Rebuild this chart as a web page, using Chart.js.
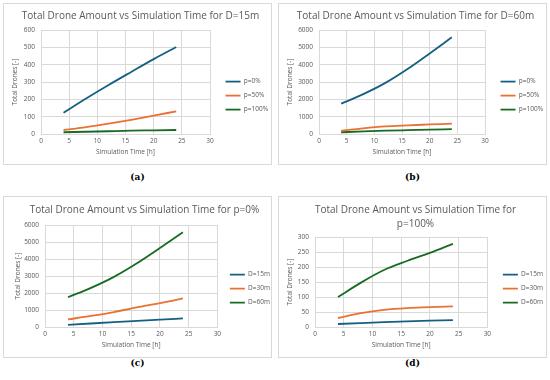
<!DOCTYPE html>
<html>
<head>
<meta charset="utf-8">
<script src="https://cdn.jsdelivr.net/npm/chart.js@4.4.1/dist/chart.umd.min.js"></script>
<style>
  body { margin: 0; width: 550px; height: 380px; background: #fff; position: relative; overflow: hidden; }
  .box { position: absolute; width: 269px; height: 162px; border: 1px solid #d9d9d9; box-sizing: border-box; }
  .cap { position: absolute; width: 269px; text-align: center; font-family: "DejaVu Serif", serif; font-weight: bold; font-size: 9px; color: #000; }
</style>
</head>
<body>
<div class="box" style="left:3px;top:3px"><canvas id="chartA"></canvas></div>
<div class="box" style="left:278px;top:3px"><canvas id="chartB"></canvas></div>
<div class="box" style="left:3px;top:196px"><canvas id="chartC"></canvas></div>
<div class="box" style="left:278px;top:196px"><canvas id="chartD"></canvas></div>
<div class="cap" style="left:3px;top:172px">(a)</div>
<div class="cap" style="left:278px;top:172px">(b)</div>
<div class="cap" style="left:3px;top:358px">(c)</div>
<div class="cap" style="left:278px;top:358px">(d)</div>
<script>
// simulation time [h]
const simTime = [4, 8, 12, 16, 20, 24]

// total drones, by grid size D and share p
const d15p0 = [123, 205, 283, 358, 432, 502]
const d15p50 = [23, 40, 60, 82, 106, 131]
const d15p100 = [10, 13, 16, 19, 21, 23]
const d30p0 = [450, 650, 880, 1150, 1400, 1680]
const d30p100 = [30, 46, 57, 63, 66, 69]
const d60p0 = [1750, 2300, 2950, 3750, 4650, 5580]
const d60p50 = [185, 330, 440, 500, 550, 600]
const d60p100 = [100, 148, 190, 220, 247, 277]

const pLabels = ['p=0%', 'p=50%', 'p=100%']
const dLabels = ['D=15m', 'D=30m', 'D=60m']
const colors = ['#156082', '#E97132', '#196B24']

const fontName = '"Open Sans", sans-serif'
const grey = '#595959'
const gridGrey = '#d9d9d9'

// moves the legend sideways without touching the plot area
const legendShift = {
  id: 'legendShift',
  afterLayout(chart, args, opts) {
    chart.legend.left += opts.dx
    chart.legend.right += opts.dx
  }
}

function toPoints(values) {
  return values.map((v, i) => ({ x: simTime[i], y: v }))
}

function makeChart(id, title, labels, seriesList, yMax, yStep, lay) {
  const datasets = seriesList.map((series, i) => ({
    label: labels[i],
    data: toPoints(series),
    borderColor: colors[i],
    backgroundColor: colors[i],
    borderWidth: 1.8,
    pointRadius: 0,
    cubicInterpolationMode: 'monotone'
  }))
  return new Chart(document.getElementById(id), {
    type: 'line',
    data: { datasets: datasets },
    plugins: [legendShift],
    options: {
      responsive: false,
      animation: false,
      layout: { padding: { left: lay.padLeft, right: lay.padRight, top: 0, bottom: 8 } },
      plugins: {
        legendShift: { dx: lay.dx },
        title: {
          display: true,
          text: title,
          color: grey,
          font: { family: fontName, size: 10, weight: 'normal', lineHeight: 1.4 },
          padding: { top: lay.titleTop, bottom: lay.titlePad }
        },
        legend: {
          position: 'right',
          title: { display: true, text: ' ', padding: { top: 24, bottom: 0 }, font: { size: 6 } },
          labels: {
            color: grey,
            font: { family: fontName, size: 6.5 },
            usePointStyle: true,
            pointStyle: 'line',
            pointStyleWidth: 15,
            boxWidth: 15,
            padding: 7.5
          }
        },
        tooltip: { enabled: false }
      },
      scales: {
        x: {
          type: 'linear',
          min: 0,
          max: 30,
          ticks: { stepSize: 5, color: grey, font: { family: fontName, size: 6.5 }, padding: 3 },
          grid: { color: gridGrey, drawTicks: false },
          border: { color: gridGrey },
          title: { display: true, text: 'Simulation Time [h]', color: grey, font: { family: fontName, size: 6.5 }, padding: { top: 2, bottom: 0 } },
          afterFit: (scale) => { scale.height = 22 }
        },
        y: {
          min: 0,
          max: yMax,
          ticks: { stepSize: yStep, color: grey, font: { family: fontName, size: 6.5 }, padding: 6, format: { useGrouping: false } },
          grid: { color: gridGrey, drawTicks: false },
          border: { display: false },
          title: { display: true, text: 'Total Drones [-]', color: grey, font: { family: fontName, size: 6.5 }, padding: { top: 0, bottom: 2 } },
          afterFit: (scale) => { scale.width = lay.yWidth }
        }
      }
    }
  })
}

function sizeCanvas(id) {
  const c = document.getElementById(id)
  c.width = 267
  c.height = 160
  c.style.width = '267px'
  c.style.height = '160px'
}
['chartA', 'chartB', 'chartC', 'chartD'].forEach(sizeCanvas)

makeChart('chartA', 'Total Drone Amount vs Simulation Time for D=15m', pLabels, [d15p0, d15p50, d15p100], 600, 100,
  { padLeft: 7, yWidth: 30, padRight: 1, dx: 8, titleTop: 5, titlePad: 7 })
makeChart('chartB', 'Total Drone Amount vs Simulation Time for D=60m', pLabels, [d60p0, d60p50, d60p100], 6000, 1000,
  { padLeft: 7, yWidth: 33, padRight: 1, dx: 8, titleTop: 5, titlePad: 7 })
makeChart('chartC', 'Total Drone Amount vs Simulation Time for p=0%', dLabels, [d15p0, d30p0, d60p0], 6000, 1000,
  { padLeft: 10, yWidth: 31, padRight: -4, dx: 5, titleTop: 6, titlePad: 8 })
makeChart('chartD', ['Total Drone Amount vs Simulation Time for', 'p=100%'], dLabels, [d15p100, d30p100, d60p100], 300, 50,
  { padLeft: 7, yWidth: 29, padRight: 1, dx: 8, titleTop: 6, titlePad: 6 })
</script>
</body>
</html>
